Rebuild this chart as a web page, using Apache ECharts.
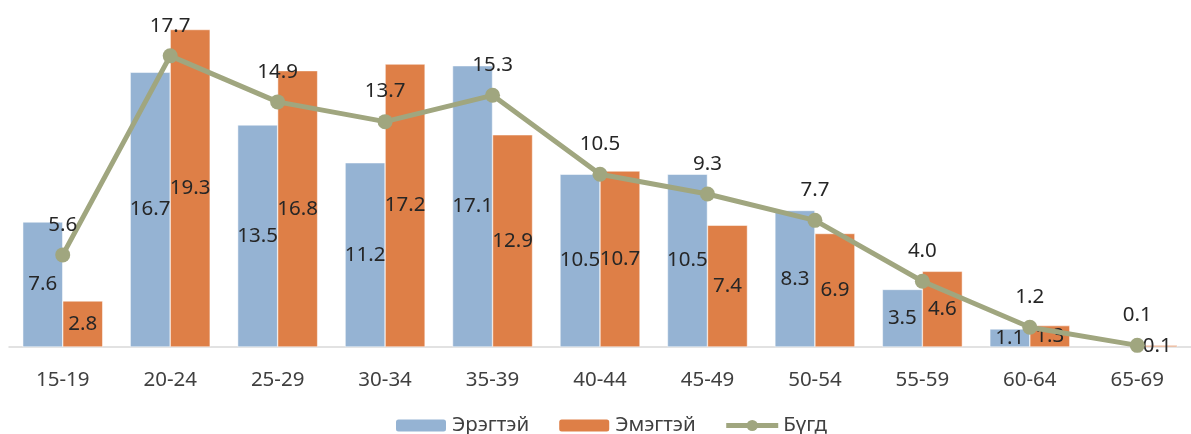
<!DOCTYPE html>
<html><head><meta charset="utf-8">
<script src="https://cdn.jsdelivr.net/npm/echarts@6/dist/echarts.min.js"></script>
<style>html,body{margin:0;padding:0;background:#fff}#c{width:1191px;height:434px}</style>
</head><body><div id="c"></div>
<script>
const categories = ['15-19','20-24','25-29','30-34','35-39','40-44','45-49','50-54','55-59','60-64','65-69'];
const male = [7.6, 16.7, 13.5, 11.2, 17.1, 10.5, 10.5, 8.3, 3.5, 1.1, null];
const female = [2.8, 19.3, 16.8, 17.2, 12.9, 10.7, 7.4, 6.9, 4.6, 1.3, 0.1];
const total = [5.6, 17.7, 14.9, 13.7, 15.3, 10.5, 9.3, 7.7, 4.0, 1.2, 0.1];
const names = ['Эрэгтэй','Эмэгтэй','Бүгд'];

const font = 'Noto Sans';
const fs = 20.5;
const chart = echarts.init(document.getElementById('c'));
const barLabel = {show:true, position:'inside', color:'#262626', fontSize:fs, fontFamily:font,
  formatter: p => p.value == null ? '' : p.value.toFixed(1)};
chart.setOption({
  animation:false,
  textStyle:{fontFamily:font},
  grid:{left:9, top:18, width:1190, height:329, containLabel:false},
  xAxis:{type:'category', data:categories,
    axisLine:{lineStyle:{color:'#d9d9d9', width:1.5}}, axisTick:{show:false},
    axisLabel:{color:'#404040', fontSize:fs, fontFamily:font, margin:23}},
  yAxis:{type:'value', min:0, max:20, show:false, splitLine:{show:false}},
  legend:{top:415, left:394, padding:0, itemWidth:52, itemHeight:14, itemGap:28,
    textStyle:{color:'#404040', fontSize:fs, fontFamily:font},
    data:[names[0], names[1], {name:names[2], lineStyle:{width:5}}]},
  series:[
    {name:names[0], type:'bar', data:male, barWidth:40, barGap:'0%',
      itemStyle:{color:'#95B3D3', borderColor:'#ffffff', borderWidth:0.5}, label:barLabel},
    {name:names[1], type:'bar', data:female, barWidth:40,
      itemStyle:{color:'#DE7F47', borderColor:'#ffffff', borderWidth:0.5}, label:barLabel},
    {name:names[2], type:'line', data:total, symbol:'circle', symbolSize:15,
      lineStyle:{color:'#A0A67F', width:5}, itemStyle:{color:'#A0A67F'},
      label:{show:true, position:'top', distance:12, color:'#262626', fontSize:fs, fontFamily:font,
        formatter:p=>p.value.toFixed(1)}}
  ]
});
</script></body></html>
